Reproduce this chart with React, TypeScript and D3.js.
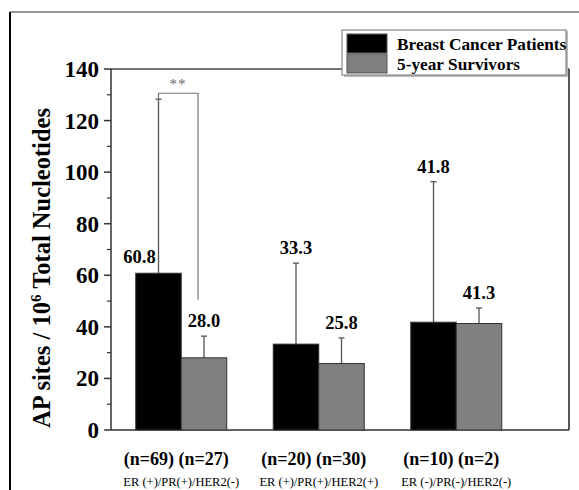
import React from "react";
import * as d3 from "d3";

const groups = ["ER (+)/PR(+)/HER2(-)", "ER (+)/PR(+)/HER2(+)", "ER (-)/PR(-)/HER2(-)"];
const nLabels = ["(n=69) (n=27)", "(n=20) (n=30)", "(n=10) (n=2)"];
const seriesNames = ["Breast Cancer Patients", "5-year Survivors"];
const patients = [60.8, 33.3, 41.8];
const survivors = [28.0, 25.8, 41.3];
const patientsErrTop = [128.3, 64.7, 96.3];
const survivorsErrTop = [36.4, 35.7, 47.3];
const yTicks = [0, 20, 40, 60, 80, 100, 120, 140];
const yMinor = [10, 30, 50, 70, 90, 110, 130];
const colors = ["#000000", "#808080"];

export default function App() {
  const W = 579, H = 490;
  const left = 111, right = 569, top = 69, bottom = 430;
  const y = d3.scaleLinear().domain([0, 140]).range([bottom, top]);
  const x = d3.scaleBand().domain(groups).range([112.5, 525]).padding(0);
  const bw = 45.5;
  const serif = "'Liberation Serif', 'Times New Roman', serif";
  const series = [patients, survivors];
  const errs = [patientsErrTop, survivorsErrTop];

  const barX = (gi: number, si: number) => (x(groups[gi]) as number) + x.bandwidth() / 2 - bw + si * bw;

  return (
    <svg width={W} height={H} style={{ position: "absolute", left: 0, top: 0, background: "#fff" }} fontFamily={serif}>
      <rect x={0} y={0} width={W} height={H} fill="#fff" />
      {/* outer frame */}
      <line x1={10} y1={12} x2={W} y2={12} stroke="#777" strokeWidth={1.5} />
      <line x1={10} y1={12} x2={10} y2={H} stroke="#000" strokeWidth={2} />

      {/* axes frame */}
      <line x1={left} y1={top} x2={right} y2={top} stroke="#444" strokeWidth={1.5} />
      <line x1={right} y1={top} x2={right} y2={bottom} stroke="#222" strokeWidth={1.5} />
      <line x1={left} y1={bottom} x2={right} y2={bottom} stroke="#333" strokeWidth={1.5} />
      <line x1={left} y1={top} x2={left} y2={bottom} stroke="#333" strokeWidth={1.5} />

      {yTicks.map((t) => (
        <g key={"t" + t}>
          <line x1={left - 7} x2={left} y1={y(t)} y2={y(t)} stroke="#333" strokeWidth={1.5} />
          <text x={left - 12} y={y(t)} dy="0.35em" textAnchor="end" fontSize={23} fontWeight="bold">{t}</text>
        </g>
      ))}
      {yMinor.map((t) => (
        <line key={"m" + t} x1={left - 4} x2={left} y1={y(t)} y2={y(t)} stroke="#333" strokeWidth={1.2} />
      ))}

      {/* error bars */}
      {series.map((vals, si) =>
        vals.map((v, gi) => {
          const cx = barX(gi, si) + bw / 2;
          return (
            <g key={"e" + si + gi}>
              <line x1={cx} x2={cx} y1={y(v)} y2={y(errs[si][gi])} stroke="#555" strokeWidth={1.3} />
              <line x1={cx - 3} x2={cx + 3} y1={y(errs[si][gi])} y2={y(errs[si][gi])} stroke="#555" strokeWidth={1.3} />
            </g>
          );
        })
      )}

      {/* bars */}
      {series.map((vals, si) =>
        vals.map((v, gi) => (
          <rect key={"b" + si + gi} x={barX(gi, si)} y={y(v)} width={bw} height={bottom - y(v)} fill={colors[si]} stroke="#333" strokeWidth={1} />
        ))
      )}

      {/* significance bracket */}
      <path
        d={`M${barX(0, 0) + bw / 2},${y(patientsErrTop[0])} V${y(130.6)} H${barX(0, 1) + bw / 2 - 6} V${y(50.5)}`}
        fill="none" stroke="#777" strokeWidth={1.2}
      />
      <text x={178} y={y(130.6) - 4} textAnchor="middle" fontSize={15} fill="#666" letterSpacing={1}>**</text>

      {/* value labels */}
      {series.map((vals, si) =>
        vals.map((v, gi) => {
          const cx = barX(gi, si) + bw / 2;
          const isBig = si === 0 && gi === 0;
          const ly = isBig ? y(v) - 10 : y(errs[si][gi]) - 9;
          return (
            <text key={"l" + si + gi} x={isBig ? cx - 19 : cx} y={ly} textAnchor="middle" fontSize={18.5} fontWeight="bold">
              {v.toFixed(1)}
            </text>
          );
        })
      )}

      {/* x labels */}
      {groups.map((g, gi) => {
        const cx = (x(g) as number) + x.bandwidth() / 2;
        return (
          <g key={"x" + gi}>
            <text x={cx - 5} y={465} textAnchor="middle" fontSize={18} fontWeight="bold">{nLabels[gi]}</text>
            <text x={cx} y={486} textAnchor="middle" fontSize={12.5}>{g}</text>
          </g>
        );
      })}

      {/* y title */}
      <text transform={`translate(50,${268}) rotate(-90)`} textAnchor="middle" fontSize={24.5} fontWeight="bold">
        AP sites / 10<tspan dy={-9} fontSize={15}>6</tspan><tspan dy={9}> Total Nucleotides</tspan>
      </text>

      {/* legend */}
      <rect x={344} y={31} width={224} height={46} fill="#bbb" />
      <rect x={342} y={30} width={224} height={45} fill="#fff" stroke="#888" strokeWidth={1.2} />
      {seriesNames.map((s, i) => (
        <g key={"lg" + i}>
          <rect x={347} y={34 + i * 20} width={40} height={19} fill={colors[i]} stroke="#555" strokeWidth={1} />
          <text x={397} y={50 + i * 20} fontSize={17.3} fontWeight="bold">{s}</text>
        </g>
      ))}
    </svg>
  );
}
